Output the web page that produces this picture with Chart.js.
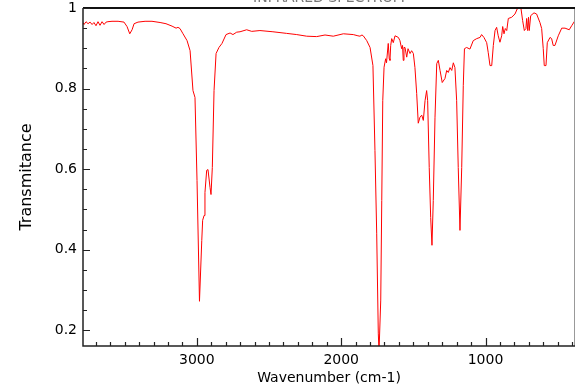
<!DOCTYPE html>
<html>
<head>
<meta charset="utf-8">
<script src="https://cdn.jsdelivr.net/npm/chart.js@4/dist/chart.umd.min.js"></script>
<style>
  html, body { margin: 0; padding: 0; background: #fff; }
</style>
</head>
<body>
<canvas id="ir-chart" width="587" height="391"></canvas>
<script>
// spectrum (cm-1 / transmittance)
const wavenumbers = [
  3789, 3782, 3768, 3754, 3740, 3726, 3713, 3699, 3685, 3671, 3657, 3643, 3629, 3616, 3588, 3546, 3505, 3484, 3465, 3449,
  3435, 3408, 3359, 3311, 3255, 3214, 3172, 3144, 3131, 3117, 3096, 3068, 3047, 3027, 3013, 2999, 2982, 2966, 2960, 2950,
  2944, 2932, 2923, 2909, 2902, 2893, 2881, 2867, 2847, 2826, 2798, 2770, 2750, 2724, 2701, 2655, 2620, 2563, 2473, 2378,
  2308, 2239, 2170, 2112, 2055, 1985, 1916, 1884, 1870, 1856, 1847, 1823, 1800, 1780, 1766, 1754, 1743, 1738, 1733, 1726,
  1719, 1712, 1703, 1692, 1686, 1674, 1667, 1662, 1657, 1650, 1639, 1627, 1604, 1593, 1581, 1575, 1570, 1565, 1558, 1546,
  1537, 1523, 1512, 1500, 1489, 1477, 1466, 1454, 1442, 1431, 1419, 1408, 1401, 1390, 1380, 1371, 1362, 1350, 1338, 1327,
  1315, 1300, 1281, 1269, 1258, 1246, 1234, 1223, 1212, 1200, 1189, 1177, 1165, 1154, 1146, 1131, 1108, 1085, 1061, 1038,
  1027, 1011, 992, 981, 969, 957, 946, 934, 923, 912, 900, 888, 881, 872, 863, 853, 842, 819, 796, 780,
  766, 754, 743, 731, 720, 715, 708, 702, 697, 687, 664, 646, 623, 611, 600, 593, 581, 572, 553, 542,
  531, 519, 496, 472, 449, 420, 403, 380
];
const transmittance = [
  0.964, 0.959, 0.966, 0.961, 0.965, 0.959, 0.964, 0.956, 0.966, 0.957, 0.966, 0.959, 0.965, 0.966, 0.967, 0.967, 0.965, 0.954, 0.936, 0.946,
  0.961, 0.965, 0.967, 0.967, 0.964, 0.961, 0.955, 0.950, 0.952, 0.949, 0.936, 0.919, 0.894, 0.795, 0.778, 0.572, 0.272, 0.423, 0.473, 0.485,
  0.542, 0.597, 0.599, 0.555, 0.537, 0.604, 0.795, 0.887, 0.902, 0.912, 0.934, 0.938, 0.934, 0.940, 0.941, 0.946, 0.942, 0.944, 0.941, 0.937,
  0.934, 0.930, 0.929, 0.933, 0.930, 0.936, 0.934, 0.931, 0.930, 0.933, 0.931, 0.919, 0.902, 0.857, 0.646, 0.441, 0.193, 0.146, 0.146, 0.275,
  0.522, 0.770, 0.853, 0.874, 0.864, 0.912, 0.874, 0.870, 0.907, 0.924, 0.914, 0.931, 0.927, 0.919, 0.899, 0.907, 0.870, 0.902, 0.902, 0.878,
  0.899, 0.887, 0.894, 0.887, 0.852, 0.788, 0.714, 0.729, 0.734, 0.721, 0.770, 0.795, 0.770, 0.604, 0.480, 0.411, 0.522, 0.729, 0.862, 0.870,
  0.845, 0.815, 0.825, 0.845, 0.840, 0.852, 0.845, 0.864, 0.852, 0.770, 0.604, 0.448, 0.604, 0.808, 0.899, 0.902, 0.898, 0.919, 0.924, 0.927,
  0.934, 0.927, 0.914, 0.889, 0.857, 0.857, 0.907, 0.944, 0.952, 0.931, 0.915, 0.931, 0.954, 0.936, 0.949, 0.944, 0.974, 0.977, 0.985, 0.998,
  1.000, 0.998, 0.969, 0.944, 0.949, 0.974, 0.944, 0.977, 0.944, 0.981, 0.988, 0.985, 0.964, 0.949, 0.899, 0.857, 0.857, 0.914, 0.927, 0.924,
  0.907, 0.907, 0.931, 0.950, 0.950, 0.946, 0.956, 0.969
];
const xTicks = [3000, 2000, 1000];
const yTicks = [0.2, 0.4, 0.6, 0.8, 1];
const chartTitle = 'INFRARED SPECTRUM';

const baseFont = { family: 'DejaVu Sans', size: 14 };

// frame and inward tick marks (major + minor)
const frameTicks = {
  id: 'frameTicks',
  afterDraw(chart) {
    const ctx = chart.ctx;
    const a = chart.chartArea;
    const xs = chart.scales.x;
    const ys = chart.scales.y;
    ctx.save();
    ctx.lineCap = 'butt';

    ctx.strokeStyle = '#999';
    ctx.lineWidth = 1;
    ctx.beginPath();
    ctx.moveTo(a.right - 0.5, a.top);
    ctx.lineTo(a.right - 0.5, a.bottom);
    ctx.stroke();

    ctx.strokeStyle = '#111';
    ctx.lineWidth = 2;
    ctx.beginPath();
    ctx.moveTo(a.left, a.top);
    ctx.lineTo(a.right, a.top);
    ctx.stroke();

    ctx.lineWidth = 1.5;
    ctx.strokeStyle = '#222';
    ctx.beginPath();
    ctx.moveTo(a.left, a.top);
    ctx.lineTo(a.left, a.bottom);
    ctx.lineTo(a.right, a.bottom);
    ctx.stroke();

    ctx.lineWidth = 1.2;
    ctx.beginPath();
    for (let w = 400; w <= 3700; w += 100) {
      const px = Math.round(xs.getPixelForValue(w)) + 0.5;
      const len = w % 1000 === 0 ? 8 : 4;
      ctx.moveTo(px, a.bottom);
      ctx.lineTo(px, a.bottom - len);
    }
    for (let k = 4; k <= 20; k++) {
      const v = k * 0.05;
      const py = Math.round(ys.getPixelForValue(v)) + 0.5;
      const len = k % 4 === 0 ? 7 : 4;
      ctx.moveTo(a.left, py);
      ctx.lineTo(a.left + len, py);
    }
    ctx.stroke();

    // title, mostly cut off at the top of the picture
    ctx.fillStyle = '#777';
    ctx.font = '14px "DejaVu Sans"';
    ctx.textAlign = 'center';
    ctx.textBaseline = 'alphabetic';
    ctx.fillText(chartTitle, (a.left + a.right) / 2, 2);
    ctx.restore();
  }
};

const points = wavenumbers.map((w, i) => ({ x: w, y: transmittance[i] }));

new Chart(document.getElementById('ir-chart').getContext('2d'), {
  type: 'line',
  data: {
    datasets: [{
      label: chartTitle,
      data: points,
      borderColor: '#ff0000',
      backgroundColor: 'transparent',
      borderWidth: 1,
      pointRadius: 0,
      tension: 0,
    }],
  },
  options: {
    responsive: false,
    animation: false,
    layout: { padding: { top: 8, right: 12, left: 0, bottom: 0 } },
    plugins: {
      legend: { display: false },
      tooltip: { enabled: false },
    },
    scales: {
      x: {
        type: 'linear',
        reverse: true,
        min: 380,
        max: 3789,
        grid: { display: false, drawTicks: false },
        border: { display: false },
        afterBuildTicks: (s) => { s.ticks = xTicks.map(v => ({ value: v })); },
        afterFit: (s) => { s.height = 45; s.paddingLeft = 0; s.paddingRight = 0; },
        ticks: {
          color: '#000',
          font: baseFont,
          padding: 6,
          maxRotation: 0,
          callback: (v) => String(v),
        },
        title: {
          display: true,
          text: 'Wavenumber (cm-1)',
          color: '#000',
          font: baseFont,
          padding: { top: 0, bottom: 4.6 },
        },
      },
      y: {
        type: 'linear',
        min: 0.161,
        max: 1,
        grid: { display: false, drawTicks: false },
        border: { display: false },
        afterBuildTicks: (s) => { s.ticks = yTicks.map(v => ({ value: v })); },
        afterFit: (s) => { s.width = 83; s.paddingTop = 0; s.paddingBottom = 0; },
        ticks: {
          color: '#000',
          font: baseFont,
          padding: 6,
          callback: (v) => (v === 1 ? '1' : v.toFixed(1)),
        },
        title: {
          display: true,
          text: 'Transmitance',
          color: '#000',
          font: { family: 'DejaVu Sans', size: 16 },
          padding: { top: 17.4, bottom: 0 },
        },
      },
    },
  },
  plugins: [frameTicks],
});
</script>
</body>
</html>
